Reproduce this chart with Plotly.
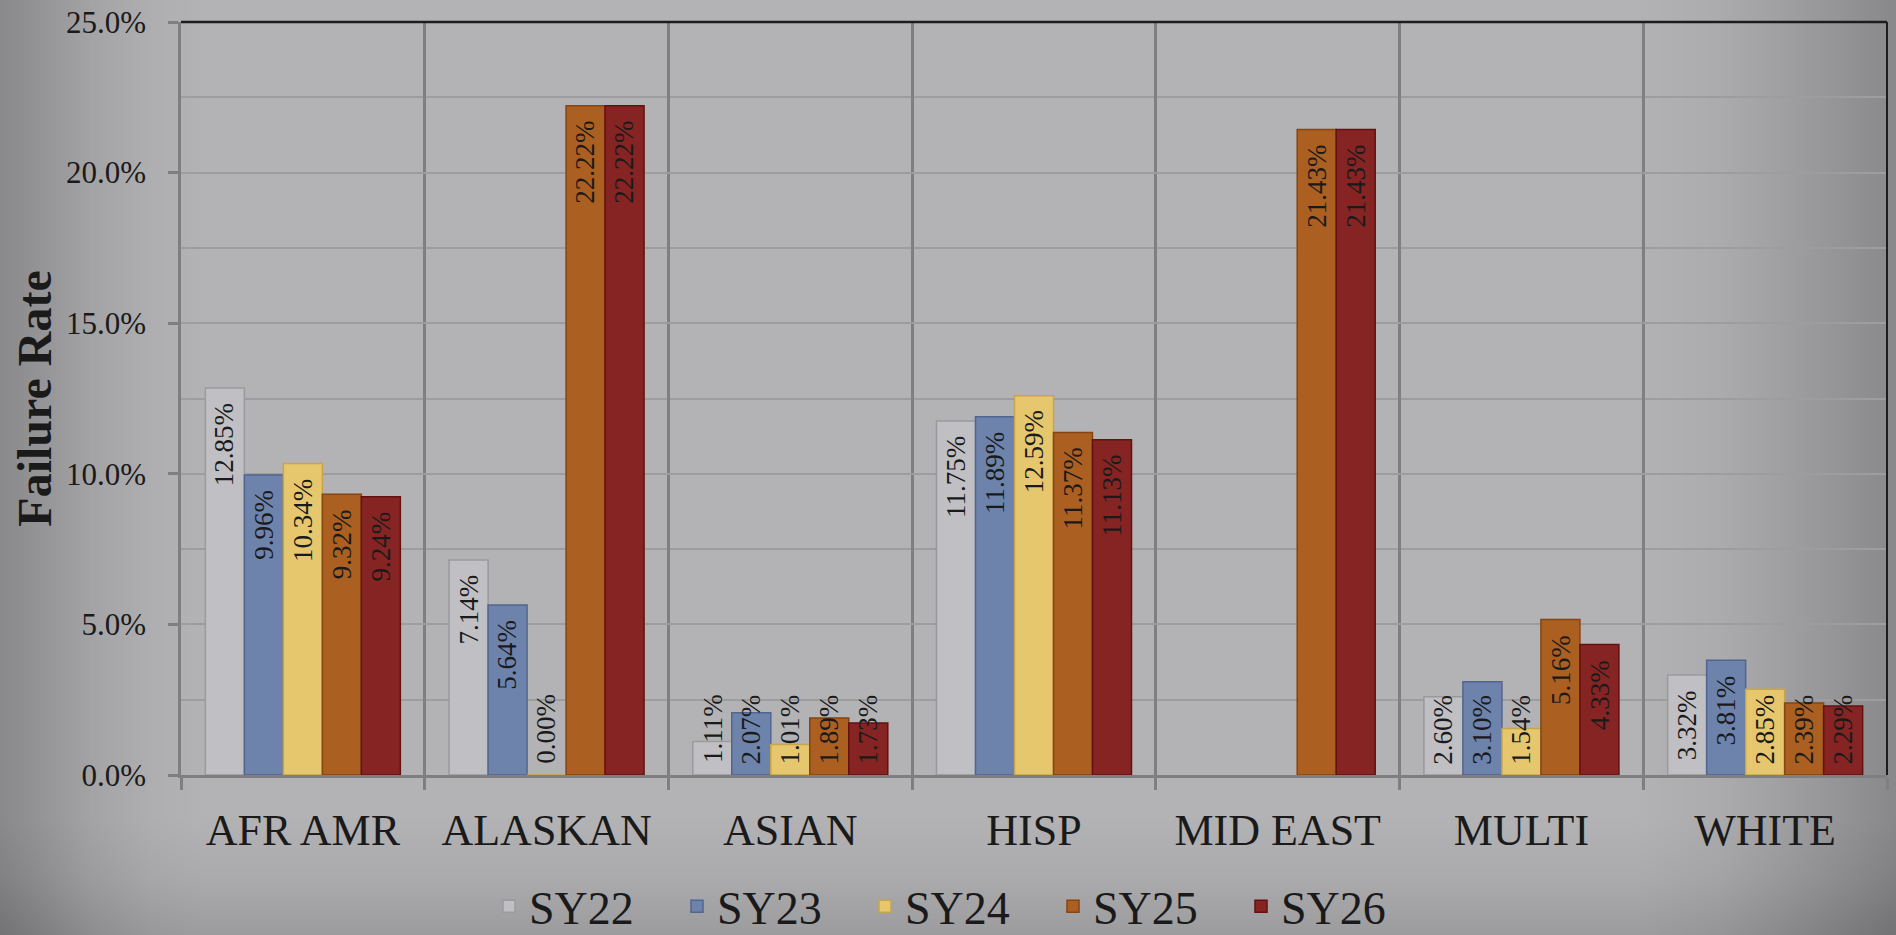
import base64, struct, zlib
import numpy as np
import plotly.graph_objects as go

categories = ["AFR AMR", "ALASKAN", "ASIAN", "HISP", "MID EAST", "MULTI", "WHITE"]
series_names = ["SY22", "SY23", "SY24", "SY25", "SY26"]
sy22 = [12.85, 7.14, 1.11, 11.75, None, 2.60, 3.32]
sy23 = [9.96, 5.64, 2.07, 11.89, None, 3.10, 3.81]
sy24 = [10.34, 0.00, 1.01, 12.59, None, 1.54, 2.85]
sy25 = [9.32, 22.22, 1.89, 11.37, 21.43, 5.16, 2.39]
sy26 = [9.24, 22.22, 1.73, 11.13, 21.43, 4.33, 2.29]
series_values = [sy22, sy23, sy24, sy25, sy26]
y_ticks = [0, 5, 10, 15, 20, 25]

colors = ["#c0c0c4", "#6d83ac", "#e6c76d", "#ab5f21", "#862424"]
line_colors = ["#9a9a9e", "#51668f", "#c7a54c", "#864512", "#641010"]

FONT = "Liberation Serif, Times New Roman, serif"
W, H = 1896, 935
ML, MR, MT, MB = 181, 9, 22, 160
PW, PH = W - ML - MR, H - MT - MB
BARGAP = 0.2


# ---------- background gradient image ----------
def make_png(arr):
    h, w, _ = arr.shape
    raw = b"".join(b"\x00" + arr[i].tobytes() for i in range(h))

    def chunk(tag, data):
        return (struct.pack(">I", len(data)) + tag + data +
                struct.pack(">I", zlib.crc32(tag + data) & 0xffffffff))

    return (b"\x89PNG\r\n\x1a\n" +
            chunk(b"IHDR", struct.pack(">IIBBBBB", w, h, 8, 2, 0, 0, 0)) +
            chunk(b"IDAT", zlib.compress(raw, 9)) + chunk(b"IEND", b""))


gw, gh = 948, 468
xs = np.linspace(0, W, gw)
ys = np.linspace(0, H, gh)
hx = np.interp(xs, [0, 40, 90, 150, 200, 1640, 1720, 1780, 1840, 1896],
               [138, 149, 164, 175, 179, 179, 172, 161, 149, 137])
vy = np.interp(ys, [0, 820, 880, 935], [0, 0, -8, -22])
v = hx[None, :] + vy[:, None]
img = np.zeros((gh, gw, 3), dtype=np.uint8)
img[..., 0] = np.clip(v, 0, 255)
img[..., 1] = np.clip(v, 0, 255)
img[..., 2] = np.clip(v + 3, 0, 255)
bg_src = "data:image/png;base64," + base64.b64encode(make_png(img)).decode()

fig = go.Figure()
for name, vals, c, lc in zip(series_names, series_values, colors, line_colors):
    fig.add_trace(go.Bar(
        x=categories, y=vals, name=name,
        marker=dict(color=c, line=dict(color=lc, width=1.5)),
        hoverinfo="x+y+name",
    ))

# ---------- data labels ----------
LABEL_SIZE = 27
char_w = {".": 0.25, "%": 0.833}
ppu = PH / 25.0
pad = 13
bw = (1 - BARGAP) / len(series_names)
annotations = []
for k, vals in enumerate(series_values):
    for i, val in enumerate(vals):
        if val is None:
            continue
        txt = f"{val:.2f}%"
        tlen = sum(char_w.get(ch, 0.5) for ch in txt) * LABEL_SIZE
        ytop = max(val - pad / ppu, (tlen + pad) / ppu)
        annotations.append(dict(
            x=i + (k - (len(series_names) - 1) / 2) * bw, y=ytop,
            xref="x", yref="y", text=txt, textangle=-90, showarrow=False,
            xanchor="center", yanchor="top",
            font=dict(family=FONT, size=LABEL_SIZE, color="#1a1a1a"),
        ))

fig.update_layout(
    width=W, height=H,
    margin=dict(l=ML, r=MR, t=MT, b=MB, autoexpand=False),
    paper_bgcolor="#a9a9ab",
    plot_bgcolor="rgba(0,0,0,0)",
    barmode="group", bargap=BARGAP, bargroupgap=0,
    font=dict(family=FONT, color="#1a1a1a"),
    images=[dict(source=bg_src, xref="paper", yref="paper",
                 x=-ML / PW, y=1 + MT / PH, sizex=W / PW, sizey=H / PH,
                 xanchor="left", yanchor="top", sizing="stretch", layer="below")],
    annotations=annotations,
    legend=dict(orientation="h", x=(W / 2 - ML + 11) / PW, xanchor="center",
                y=-0.126, yanchor="top", entrywidth=143, itemwidth=30,
                font=dict(family=FONT, size=46, color="#1a1a1a"),
                bgcolor="rgba(0,0,0,0)", traceorder="normal"),
    shapes=[
        dict(type="line", xref="paper", yref="paper", x0=0, x1=1, y0=1, y1=1,
             line=dict(color="#1c1c1c", width=2.5), layer="above"),
        dict(type="line", xref="paper", yref="paper", x0=1, x1=1, y0=0, y1=1,
             line=dict(color="#1c1c1c", width=2), layer="above"),
    ],
)

fig.update_yaxes(
    range=[0, 25], tickvals=y_ticks, ticktext=[f"{t:.1f}%" for t in y_ticks],
    showline=True, linecolor="#7f7f7f", linewidth=2.5,
    ticks="outside", ticklen=10, tickwidth=2.5, tickcolor="#7f7f7f",
    showgrid=True, gridcolor="#9d9d9f", gridwidth=2,
    minor=dict(dtick=2.5, showgrid=True, gridcolor="#9d9d9f", gridwidth=2, ticks=""),
    zeroline=False, automargin=False,
    tickfont=dict(family=FONT, size=31, color="#1a1a1a"),
    ticklabelstandoff=16,
    title=dict(text="<b>Failure Rate</b>", standoff=0,
               font=dict(family=FONT, size=48, color="#1a1a1a")),
)
fig.update_xaxes(
    type="category", range=[-0.5, len(categories) - 0.5],
    tickson="boundaries", ticks="outside", ticklen=12, tickwidth=2.5, tickcolor="#7f7f7f",
    showline=True, linecolor="#7f7f7f", linewidth=2.5,
    showgrid=True, gridcolor="#7f7f81", gridwidth=2.5,
    automargin=False,
    tickfont=dict(family=FONT, size=44, color="#1a1a1a"),
    ticklabelstandoff=14,
)

fig.write_html(
    "out.html",
    config={"displayModeBar": False},
    post_script="document.body.style.margin='0';document.body.style.overflow='hidden';",
)
